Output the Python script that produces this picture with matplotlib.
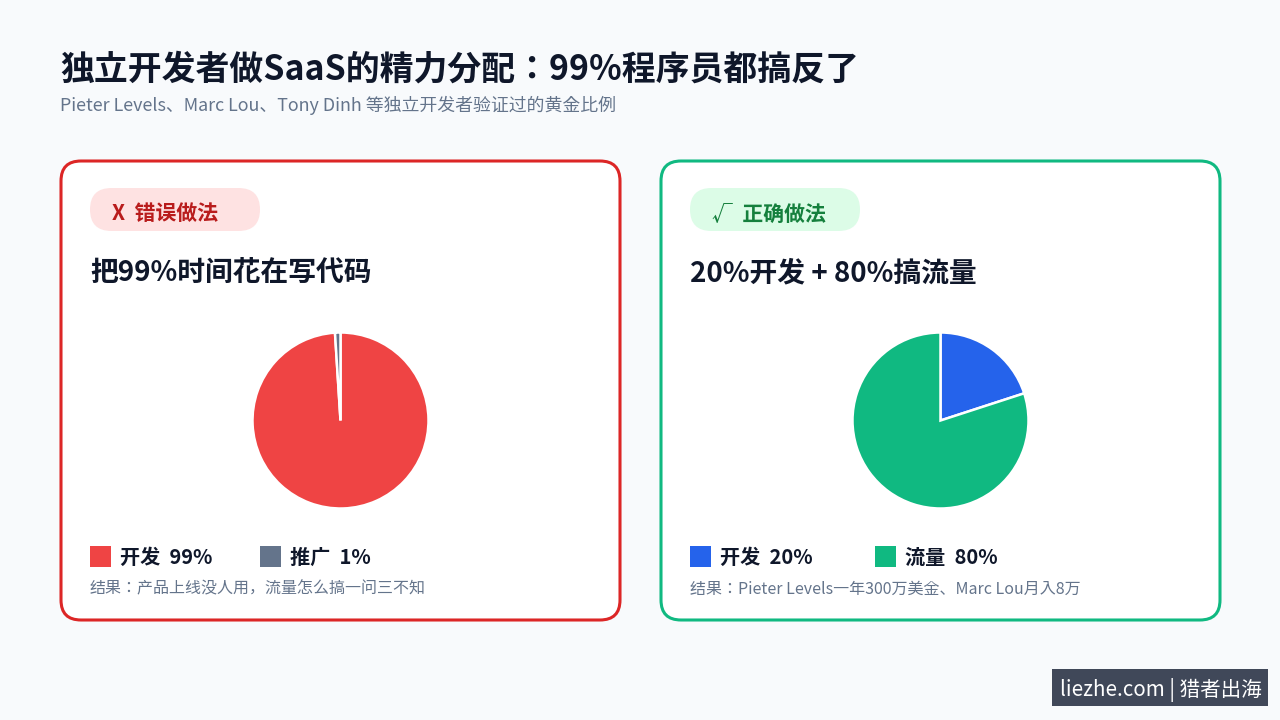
import matplotlib
matplotlib.use('Agg')
import matplotlib.pyplot as plt
from matplotlib.patches import FancyBboxPatch, Rectangle

plt.rcParams['font.family'] = ['Noto Sans CJK JP', 'DejaVu Sans']

#%%# data #%%#
title = '独立开发者做SaaS的精力分配：99%程序员都搞反了'
subtitle = 'Pieter Levels、Marc Lou、Tony Dinh 等独立开发者验证过的黄金比例'

wrongLabels = ['开发', '推广']
wrongValues = [99, 1]
wrongColors = ['#ef4444', '#64748b']

rightLabels = ['开发', '流量']
rightValues = [20, 80]
rightColors = ['#2563eb', '#10b981']

cards = [
    dict(x0=61, edge='#dc2626', badgeBg='#fee2e2', badgeFg='#b91c1c', badge='X  错误做法',
         head='把99%时间花在写代码', labels=wrongLabels, values=wrongValues, colors=wrongColors,
         leg2=260, result='结果：产品上线没人用，流量怎么搞一问三不知'),
    dict(x0=661, edge='#10b981', badgeBg='#dcfce7', badgeFg='#15803d', badge='√  正确做法',
         head='20%开发 + 80%搞流量', labels=rightLabels, values=rightValues, colors=rightColors,
         leg2=875, result='结果：Pieter Levels一年300万美金、Marc Lou月入8万'),
]

#%%# figure #%%#
W, H = 1280, 720
fig = plt.figure(figsize=(W/100, H/100), dpi=100, facecolor='#f8fafc')
ax = fig.add_axes([0, 0, 1, 1])
ax.set_xlim(0, W)
ax.set_ylim(H, 0)
ax.axis('off')

dark = '#0f172a'
grey = '#64748b'

ax.text(60, 69, title, fontsize=24.4, fontweight='bold', color=dark, va='center')
ax.text(60, 105, subtitle, fontsize=12.9, color=grey, va='center')

for c in cards:
    x0 = c['x0']
    ax.add_patch(FancyBboxPatch((x0, 161), 559, 459, boxstyle='round,pad=0,rounding_size=20',
                                facecolor='white', edgecolor=c['edge'], linewidth=2.2))
    ax.add_patch(FancyBboxPatch((x0+29, 188), 170, 43, boxstyle='round,pad=0,rounding_size=21.5',
                                facecolor=c['badgeBg'], edgecolor='none'))
    ax.text(x0+51.5, 214, c['badge'], fontsize=15, fontweight='bold', color=c['badgeFg'], va='center')
    ax.text(x0+29, 273, c['head'], fontsize=20, fontweight='bold', color=dark, va='center')

    # legend
    legX = [x0+29, c['leg2']]
    for i in range(2):
        ax.add_patch(Rectangle((legX[i], 546), 21, 21, facecolor=c['colors'][i], edgecolor='none'))
        ax.text(legX[i]+30, 557, f"{c['labels'][i]}  {c['values'][i]}%", fontsize=14.5,
                fontweight='bold', color=dark, va='center')
    ax.text(x0+29, 589, c['result'], fontsize=11.5, color=grey, va='center')

    # pie
    cx, cy, r = x0+279.5, 420.5, 88
    pax = fig.add_axes([(cx-r)/W, 1-(cy+r)/H, 2*r/W, 2*r/H])
    pax.pie(c['values'], colors=c['colors'], startangle=90, counterclock=False,
            wedgeprops=dict(edgecolor='white', linewidth=1.8))
    pax.set_xlim(-1, 1)
    pax.set_ylim(-1, 1)
    pax.set_aspect('equal')
    pax.axis('off')

# watermark
ax.add_patch(Rectangle((1052, 669), 216, 37, facecolor='#404859', edgecolor='none'))
ax.text(1160.5, 690, 'liezhe.com | 猎者出海', fontsize=14.8, color='white', va='center', ha='center')

fig.savefig('out.png', dpi=100, facecolor=fig.get_facecolor())
